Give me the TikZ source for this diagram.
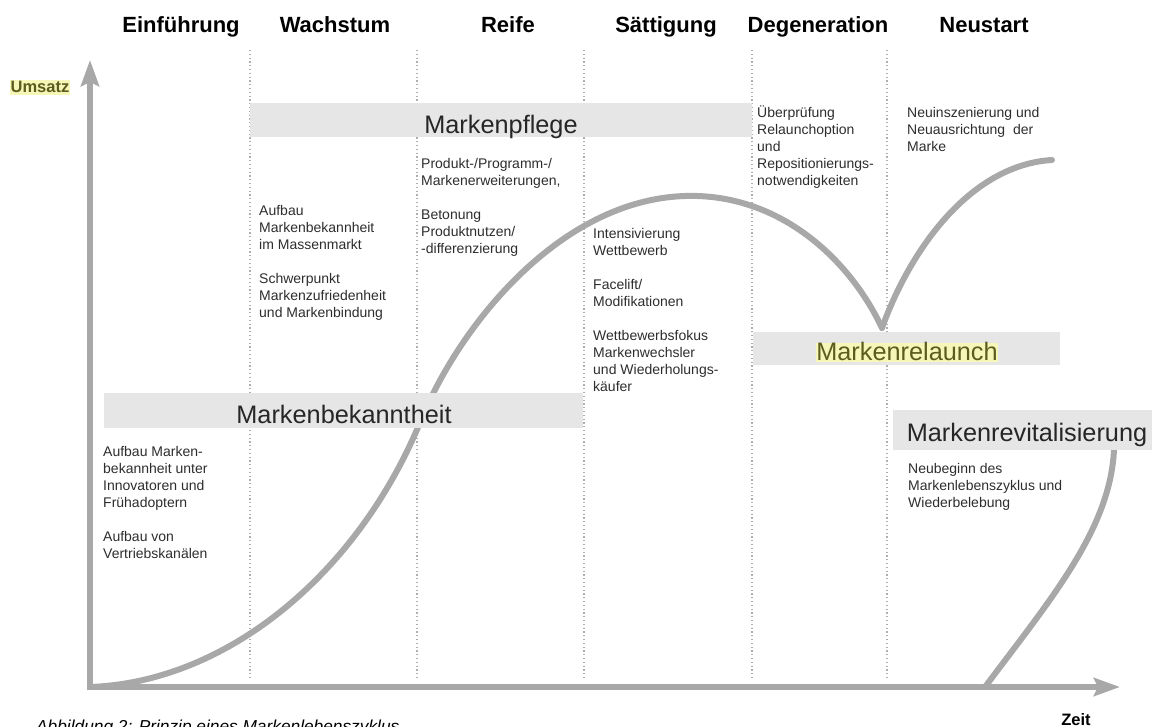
\documentclass[tikz,border=0pt]{standalone}
\usepackage{fontspec}
\setmainfont{Liberation Sans}
\usetikzlibrary{arrows.meta}

\definecolor{barGray}{RGB}{230,230,230}
\definecolor{lineGray}{RGB}{168,168,168}
\definecolor{dotGray}{RGB}{175,175,175}
\definecolor{noteGray}{RGB}{45,45,45}
\definecolor{hlYellow}{RGB}{246,246,182}
\definecolor{markOlive}{RGB}{92,92,30}

\begin{document}
\begin{tikzpicture}[x=1pt,y=-1pt,
  phase/.style={font=\fontsize{22}{26}\selectfont\bfseries, anchor=base},
  divider/.style={draw=dotGray, line width=1.2pt, dash pattern=on 1.2pt off 2.6pt},
  curve/.style={draw=lineGray, line width=6pt, line cap=round, line join=round},
  axis/.style={draw=lineGray, line width=6pt,
    {Stealth[length=26pt, width=18pt, inset=4pt]}-{Stealth[length=26pt, width=18pt, inset=4pt]}},
  bar/.style={fill=barGray, inner sep=0pt},
  bigtext/.style={font=\fontsize{25.3}{30}\selectfont, text=black!85, anchor=base, inner sep=0pt},
  note/.style={font=\fontsize{14}{17}\selectfont, text=noteGray, align=left, anchor=north west, inner sep=0pt},
]
\useasboundingbox (0,0) rectangle (1152,727);

% phase borders
\foreach \x in {250,417,584,752,887}
  \draw[divider] (\x,50) -- (\x,680);

% phase titles
\foreach \x/\name [count=\i] in {181/Einführung,335/Wachstum,508/Reife,666/Sättigung,818/Degeneration,984/Neustart}
  \node[phase] (phase\i) at (\x,33) {\name};

% life cycle, relaunch branch and revitalisation
\coordinate (O) at (90,687);
\coordinate (turn) at (421,420);
\coordinate (peak) at (685,196);
\coordinate (dip) at (882,328);
\draw[curve] (O) .. controls (230,682) and (360,570) .. (turn)
  .. controls (460,325) and (560,200) .. (peak)
  .. controls (780,193) and (850,260) .. (dip);
\draw[curve] (dip) .. controls (910,250) and (970,165) .. (1052,160);
\draw[curve] (985,687) .. controls (1050,600) and (1110,530) .. (1114,450);

% bars
\node[bar, minimum width=502pt, minimum height=34pt] (pflegeBar) at (501,120) {};
\node[bar, minimum width=479pt, minimum height=35pt] (bekanntBar) at (343.5,410.5) {};
\node[bar, minimum width=307pt, minimum height=33pt] (relaunchBar) at (906.5,348.5) {};
\node[bar, minimum width=268pt, minimum height=40pt] (revitalBar) at (1027,430) {};

\node[bigtext] (pflege) at (501,134) {Markenpflege};
\node[bigtext] (bekannt) at (344,424) {Markenbekanntheit};
\node[bigtext, fill=hlYellow, text=markOlive, text height=18pt, text depth=1.5pt] (relaunch) at (907,361) {Markenrelaunch};
\node[bigtext] (revital) at (1027,442) {Markenrevitalisierung};

% notes per phase
\node[note] (noteEin) at (103,444) {\strut Aufbau Marken-\\bekannheit unter\\Innovatoren und\\Frühadoptern\\[17pt]Aufbau von\\Vertriebskanälen};
\node[note] (noteWachs) at (259,203) {\strut Aufbau\\Markenbekannheit\\im Massenmarkt\\[17pt]Schwerpunkt\\Markenzufriedenheit\\und Markenbindung};
\node[note] (noteReife) at (421,156) {\strut Produkt-/Programm-/\\Markenerweiterungen,\\[17pt]Betonung\\Produktnutzen/\\-differenzierung};
\node[note] (noteSaett) at (593,226) {\strut Intensivierung\\Wettbewerb\\[17pt]Facelift/\\Modifikationen\\[17pt]Wettbewerbsfokus\\Markenwechsler\\und Wiederholungs-\\käufer};
\node[note] (noteDegen) at (757,105) {\strut Überprüfung\\Relaunchoption\\und\\Repositionierungs-\\notwendigkeiten};
\node[note] (noteNeu) at (907,105) {\strut Neuinszenierung und\\Neuausrichtung\ \ der\\Marke};
\node[note] (noteRevital) at (908,461) {\strut Neubeginn des\\Markenlebenszyklus und\\Wiederbelebung};

% axes
\coordinate (yTop) at (90,60);
\coordinate (xEnd) at (1120,687);
\draw[axis] (yTop) -- (O) -- (xEnd);

\node[font=\fontsize{16.5}{20}\selectfont\bfseries, text=markOlive, fill=hlYellow, anchor=base,
  inner sep=0.6pt, text height=12.5pt, text depth=1pt] (umsatz) at (40,93) {Umsatz};
\node[font=\fontsize{16.5}{20}\selectfont\bfseries, anchor=base, inner sep=0pt] (zeit) at (1076,725) {Zeit};

\node[font=\fontsize{17.3}{20}\selectfont\itshape, anchor=base west, inner sep=0pt] (caption) at (36,732) {Abbildung 2: Prinzip eines Markenlebenszyklus};
\end{tikzpicture}
\end{document}
